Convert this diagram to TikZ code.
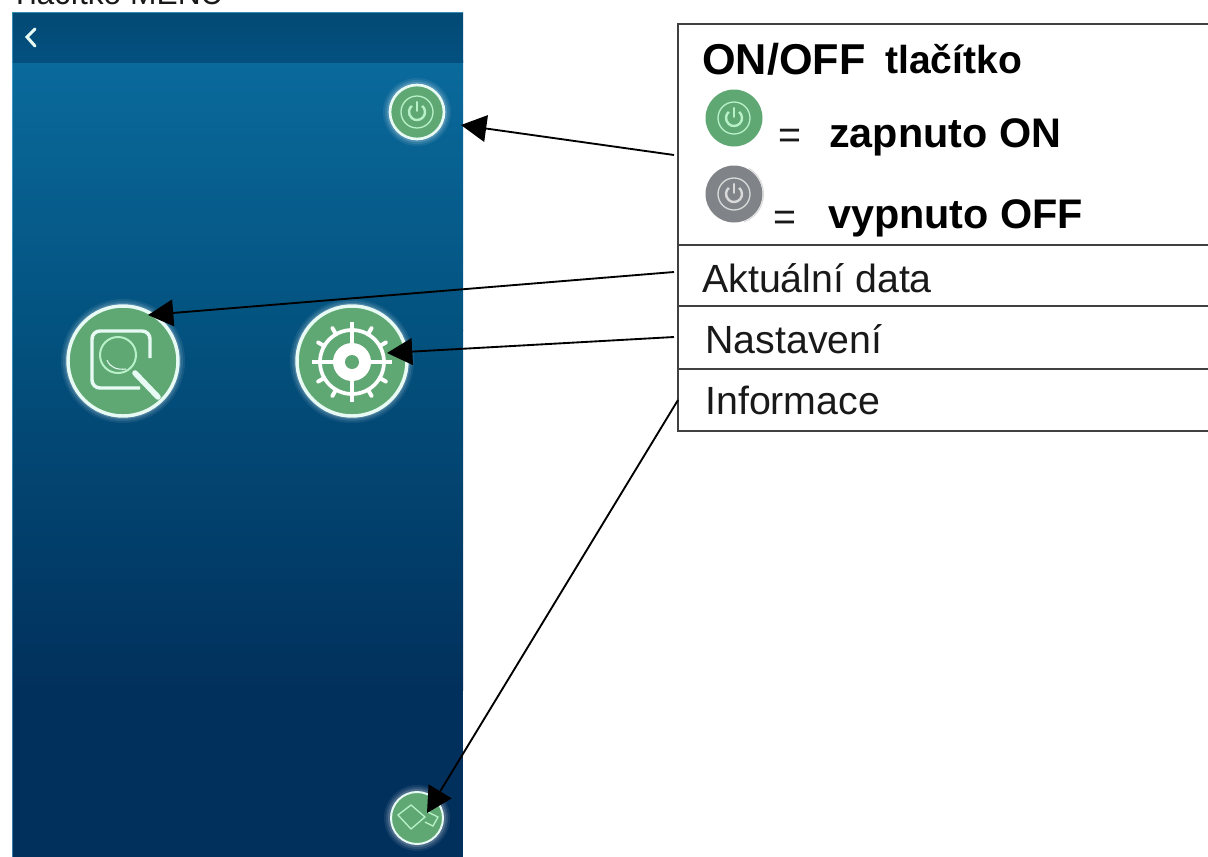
\documentclass[tikz,border=0pt]{standalone}
\usepackage{fontspec}
\setmainfont{Liberation Sans}
\usetikzlibrary{arrows.meta}
\definecolor{gOn}{HTML}{5FA873}
\definecolor{gOff}{HTML}{808488}
\definecolor{ringc}{HTML}{E8FAF4}
\definecolor{lineg}{HTML}{B8F0C8}
\definecolor{bandc}{HTML}{03507F}
\definecolor{ptop}{HTML}{0A6A9C}
\definecolor{pmid}{HTML}{03527F}
\definecolor{pbot}{HTML}{02305C}
\tikzset{
  x=0.75pt,y=-0.75pt,
  lab/.style={anchor=base west,inner sep=0pt,font=\fontsize{29.5}{31}\selectfont,text=black!90},
  bold/.style={lab,font=\fontsize{31}{33}\selectfont\bfseries,text=black},
  rowline/.style={draw=black!75,line width=1pt},
  arr/.style={draw=black,line width=1.4pt,-{Triangle[length=19pt,width=20pt]}}
}
\newcommand{\pwr}[3]{%
  \begin{scope}[shift={#1}]
    \draw[#3,line width=1pt] (0,0) circle[radius=#2];
    \draw[#3,line width=1.8pt] (-50:#2*0.5) arc[start angle=-50,end angle=230,radius=#2*0.5];
    \draw[#3,line width=1.8pt,line cap=round] (0,-#2*0.62) -- (0,-#2*0.08);
  \end{scope}}
\begin{document}
\begin{tikzpicture}
\useasboundingbox (0,0) rectangle (1208,857);
\fill[white] (0,0) rectangle (1208,857);
\node[lab,font=\fontsize{23.8}{30}\selectfont] (title) at (10,4) {Tlačítko MENU};
% panel
\shade[top color=ptop,bottom color=pmid] (12,60) rectangle (463,330);
\shade[top color=pmid,bottom color=pbot] (12,330) rectangle (463,690);
\fill[pbot] (12,690) rectangle (463,857);
\shade[top color=bandc!92!black,bottom color=bandc] (12,12) rectangle (463,62);
\draw[cyan!60!white,opacity=.5,line width=.6pt] (12,857) -- (12,12) -- (463,12);
\draw[ringc,line width=2.3pt,line cap=round] (35,29) -- (27,37) -- (35,46);
% glow + buttons
\foreach \cx/\cy/\r/\w in {417/112/27/2/,123/361/55/2.6/,352/361/55/2.6/,417/818/26/1.5/}{
  \foreach \g/\o in {7/.07,5/.10,3/.16}{
    \fill[white,opacity=\o] (\cx,\cy) circle[radius=\r+\g];
  }
  \fill[gOn] (\cx,\cy) circle[radius=\r];
  \draw[ringc,line width=\w pt] (\cx,\cy) circle[radius=\r];
}
\pwr{(417,112)}{16}{lineg}
% magnifier icon
\draw[ringc,line width=2.6pt,rounded corners=6pt] (140,388) -- (92,388) -- (92,331) -- (150,331) -- (150,358);
\draw[lineg,line width=1.5pt] (118,355) circle[radius=18];
\draw[ringc,line width=4.2pt,line cap=round] (135,373) -- (158,397);
\draw[ringc,line width=.8pt] (107,360) .. controls (110,368) and (118,370) .. (126,369);
% gear icon
\begin{scope}[shift={(352,362)}]
  \draw[white,line width=2.8pt] (0,0) circle[radius=32];
  \draw[white,line width=3.4pt] (-40,0) -- (40,0) (0,-40) -- (0,40);
  \foreach \a in {30,60,120,150,210,240,300,330}{
    \draw[white,line width=3pt,line cap=round] (\a:32) -- (\a:39);
  }
  \fill[white] (0,0) circle[radius=19];
  \fill[gOn] (0,0) circle[radius=7];
\end{scope}
% info icon
\draw[lineg,line width=1pt] (398,815) -- (411,805) -- (425,817) -- (411,829) -- cycle;
\draw[lineg,line width=1pt] (428,812) -- (438,817) -- (433,826) -- (425,822);
% table
\draw[rowline] (1208,24) -- (678,24) -- (678,431) -- (1208,431);
\draw[rowline] (678,245) -- (1208,245);
\draw[rowline] (678,306) -- (1208,306);
\draw[rowline] (678,369) -- (1208,369);
\node[lab,font=\fontsize{32.4}{34}\selectfont\bfseries,text=black] (hd) at (702,74) {ON/OFF};
\node[lab,font=\fontsize{29.3}{31}\selectfont\bfseries,text=black] (hd2) at (885,73) {tlačítko};
\fill[gOn] (734,118) circle[radius=28.5];
\pwr{(734,118)}{16}{lineg}
\node[lab] (eq1) at (778,148) {=};
\node[bold] (on) at (829,147) {zapnuto ON};
\fill[gOff] (734,194) circle[radius=28.5];
\draw[black!15,line width=.8pt] (734,194) ++(-60:29.5) arc[start angle=-60,end angle=70,radius=29.5];
\pwr{(734,194)}{16}{black!15}
\node[lab] (eq2) at (773,230) {=};
\node[bold] (off) at (828,228) {vypnuto OFF};
\node[lab] (r1) at (702,292) {Aktuální data};
\node[lab] (r2) at (705,353) {Nastavení};
\node[lab] (r3) at (705,414) {Informace};
% connectors
\coordinate (c0) at (674,155);
\coordinate (c1) at (674,272);
\coordinate (c2) at (674,337);
\coordinate (c3) at (678,400);
\coordinate (t0) at (461,125);
\coordinate (t1) at (148,315);
\coordinate (t2) at (387,353);
\coordinate (t3) at (427,813);
\draw[arr] (c0) -- (t0);
\draw[arr] (c1) -- (t1);
\draw[arr] (c2) -- (t2);
\draw[arr] (c3) -- (t3);
\end{tikzpicture}
\end{document}
